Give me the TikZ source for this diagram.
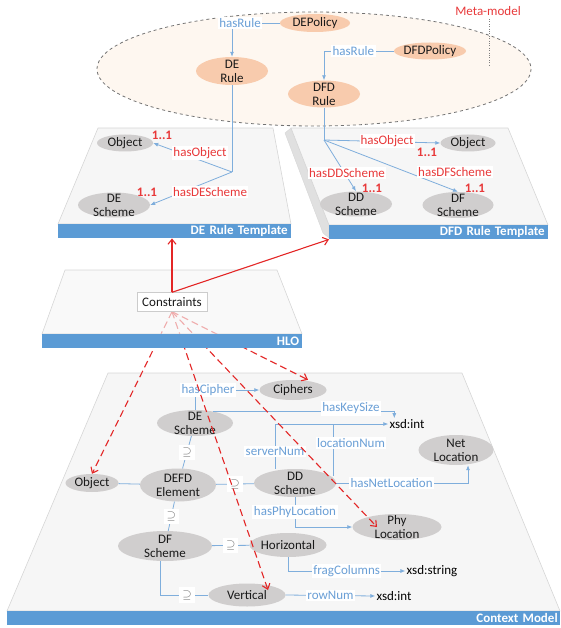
\documentclass[tikz,border=0pt]{standalone}
\usepackage{fontspec}
\setmainfont{Carlito}
\usepackage{amssymb}
\usetikzlibrary{shapes.geometric,arrows.meta}
\definecolor{peach}{HTML}{F8CBAD}
\definecolor{metabg}{HTML}{FEF7F0}
\definecolor{nodegray}{HTML}{D0CECE}
\definecolor{barblue}{HTML}{5B9BD5}
\definecolor{lineblue}{HTML}{7FAEDC}
\definecolor{textblue}{HTML}{6A9FD6}
\definecolor{relred}{HTML}{E8393A}
\definecolor{arrowred}{HTML}{E32626}
\definecolor{planegray}{HTML}{F6F6F6}
\definecolor{planeedge}{HTML}{D6D6D6}
\pgfdeclarelayer{front}
\pgfsetlayers{main,front}

\begin{document}
\begin{tikzpicture}[x=1pt,y=-1pt,
    font=\fontsize{13}{14}\selectfont,
    concept/.style={ellipse, fill=nodegray, inner sep=-5pt, align=center, text=black!90},
    metaconcept/.style={concept, fill=peach},
    bar/.style={rectangle, fill=barblue, text=white, font=\fontsize{13}{14}\selectfont\bfseries, inner sep=0pt, minimum height=14, align=right, anchor=north west},
    plane/.style={fill=planegray, draw=planeedge, line width=0.6pt},
    rel/.style={draw=lineblue, line width=0.8pt},
    relarrow/.style={rel, -{Latex[length=5pt,width=4pt]}},
    rellabel/.style={fill=white, text=textblue, inner sep=1.5pt},
    tmplabel/.style={fill=white, text=relred, inner sep=1pt},
    card/.style={text=relred, font=\fontsize{13}{14}\selectfont\bfseries, inner sep=0pt},
    sublabel/.style={fill=white, text=black!60, inner sep=3pt},
    constraint/.style={arrowred, line width=1.1pt, -{Straight Barb[length=5pt,width=8pt]}},
    constraintdash/.style={constraint, dash pattern=on 7pt off 4pt}]
    \useasboundingbox (0,0) rectangle (560,628);

    % Meta-model
    \draw[dashed, draw=black!55, fill=metabg, line width=0.8pt] (314,69) ellipse [x radius=217, y radius=57];
    \node[text=relred] (mmlabel) at (488,11) {Meta-model};
    \draw[dotted, black!50] ([xshift=1]mmlabel.south) -- ++(0,47);
    \node[metaconcept, minimum width=70, minimum height=18] (depolicy) at (315,23) {DEPolicy};
    \node[metaconcept, minimum width=72, minimum height=28] (derule) at (232,71) {DE\\Rule};
    \node[metaconcept, minimum width=72, minimum height=17] (dfdpolicy) at (430,51) {DFDPolicy};
    \node[metaconcept, minimum width=72, minimum height=27] (dfdrule) at (324,94) {DFD\\Rule};
    \draw[relarrow] (depolicy.west) -| node[rellabel, pos=0.5, xshift=8] (hasrule1) {hasRule} (derule.north);
    \draw[relarrow] (dfdpolicy.west) -| node[rellabel, pos=0.29] (hasrule2) {hasRule} (dfdrule.north);

    % DE Rule Template
    \filldraw[plane] (98,128) -- (273,128) -- (291,224) -- (58,224) -- cycle;
    \node[bar, minimum width=233, text width=226] (debar) at (58,224) {DE Rule Template};
    \node[concept, minimum width=56, minimum height=17] (deobj) at (125,143) {Object};
    \node[concept, minimum width=72, minimum height=25] (desch1) at (114,205) {DE\\Scheme};
    \coordinate (dejoin) at (232,172);
    \draw[rel] (derule.south) -- (dejoin);
    \draw[relarrow] (dejoin) -- (deobj.east);
    \draw[relarrow] (dejoin) -- (desch1.east);
    \node[tmplabel] (dehasobj) at (200,153) {hasObject};
    \node[tmplabel] (dehassch) at (210,192) {hasDEScheme};
    \node[card] (decard1) at (162,135) {1..1};
    \node[card] (decard2) at (147,192) {1..1};

    % DFD Rule Template
    \filldraw[fill=black!12, draw=planeedge] (285,133) -- (291,128) -- (329,225) -- (329,238) -- (323,233) -- cycle;
    \filldraw[plane] (291,128) -- (508,128) -- (548,225) -- (329,225) -- cycle;
    \node[bar, minimum width=219, text width=212] (dfdbar) at (329,225) {DFD Rule Template};
    \node[concept, minimum width=55, minimum height=17] (dfdobj) at (468,143) {Object};
    \node[concept, minimum width=72, minimum height=25] (ddsch1) at (356,204) {DD\\Scheme};
    \node[concept, minimum width=71, minimum height=26] (dfsch1) at (458,205) {DF\\Scheme};
    \coordinate (dfdjoin) at (324,140);
    \draw[rel] (dfdrule.south) -- (dfdjoin);
    \draw[relarrow] (dfdjoin) -- (dfdobj.west);
    \draw[relarrow] (dfdjoin) -- (ddsch1.north);
    \draw[relarrow] (dfdjoin) -- (dfsch1.north);
    \node[tmplabel] (dfdhasobj) at (387,141) {hasObject};
    \node[tmplabel] (dfdhasdd) at (347,173) {hasDDScheme};
    \node[tmplabel] (dfdhasdf) at (455,172) {hasDFScheme};
    \node[card] (dfdcard1) at (427,152) {1..1};
    \node[card] (dfdcard2) at (372,188) {1..1};
    \node[card] (dfdcard3) at (475,188) {1..1};

    % Context Model
    \filldraw[plane] (108,373) -- (462,373) -- (560,611) -- (7,611) -- cycle;
    \node[bar, minimum width=553, text width=548] (ctxbar) at (7,611) {Context Model};
    \node[concept, minimum width=67, minimum height=20] (ciphers) at (293,390) {Ciphers};
    \node[concept, minimum width=76, minimum height=26] (desch) at (195,423) {DE\\Scheme};
    \node[concept, minimum width=76, minimum height=33] (defd) at (178,485) {DEFD\\Element};
    \node[concept, minimum width=53, minimum height=18] (obj) at (92,483) {Object};
    \node[concept, minimum width=82, minimum height=28] (ddsch) at (295,483) {DD\\Scheme};
    \node[concept, minimum width=75, minimum height=30] (netloc) at (456,450) {Net\\Location};
    \node[concept, minimum width=89, minimum height=26] (phyloc) at (397,527) {Phy\\Location};
    \node[concept, minimum width=94, minimum height=30] (dfsch) at (165,546) {DF\\Scheme};
    \node[concept, minimum width=77, minimum height=24] (horiz) at (288,545) {Horizontal};
    \node[concept, minimum width=77, minimum height=23] (vert) at (247,595) {Vertical};
    \node[inner sep=1pt] (xsdint) at (407,424) {xsd:int};
    \node[inner sep=1pt] (xsdstr) at (432,571) {xsd:string};
    \node[inner sep=1pt] (xsdint2) at (394,596) {xsd:int};
    % properties
    \draw[relarrow] (desch.north) |- node[rellabel, pos=0.5, xshift=13] (hascipher) {hasCipher} (ciphers.west);
    \draw[relarrow] (desch.32) -| node[rellabel, pos=0.38, yshift=3] (haskey) {hasKeySize} ([xshift=6]xsdint.north west);
    \draw[relarrow] ([xshift=-20]ddsch.north) |- node[rellabel, pos=0.19] (servernum) {serverNum} (xsdint.west);
    \draw[rel] ([xshift=38,yshift=-7]ddsch.north) -- node[rellabel, pos=0.63, xshift=18] (locnum) {locationNum} ([xshift=38]ddsch.north |- xsdint.west);
    \draw[relarrow] (ddsch.east) -| node[rellabel, pos=0.21] (hasnet) {hasNetLocation} ([xshift=12]netloc.south);
    \draw[relarrow] (ddsch.south) |- node[rellabel, pos=0.25] (hasphy) {hasPhyLocation} (phyloc.west);
    \draw[relarrow] (horiz.south) |- node[rellabel, pos=0.75] (fragcol) {fragColumns} (xsdstr.west);
    \draw[relarrow] (vert.east) -- node[rellabel] (rownum) {rowNum} (xsdint2.west);
    % subsumption
    \draw[rel] (obj) -- (defd);
    \draw[rel] (desch) -- node[sublabel] (sub1) {$\supseteq$} (defd);
    \draw[rel] (defd) -- node[sublabel] (sub2) {$\supseteq$} (ddsch);
    \draw[rel] (defd) -- node[sublabel] (sub3) {$\supseteq$} (dfsch);
    \draw[rel] (dfsch) -- node[sublabel] (sub4) {$\supseteq$} (horiz);
    \draw[rel] ([xshift=-5]dfsch.south) |- node[sublabel, pos=0.78] (sub5) {$\supseteq$} (vert.west);

    % Constraints
    \begin{pgfonlayer}{front}
        \node[draw=black!20, fill=white, inner xsep=5pt, inner ysep=3pt, minimum height=19, text=black!90] (cons) at (172,302) {Constraints};
        \draw[constraint] (cons.north) -- (cons.north |- debar.south);
        \draw[constraint] (cons.north) -- (dfdbar.south west);
    \end{pgfonlayer}
    \draw[constraintdash] (cons.south) -- (obj.north);
    \draw[constraintdash] (cons.south) -- ([xshift=15]ciphers.north);
    \draw[constraintdash] (cons.south) -- ([xshift=21,yshift=5]vert.center);
    \draw[constraintdash] (cons.south) -- ([xshift=-20]phyloc.center);

    % HLO
    \filldraw[plane, fill opacity=0.65] (65,270) -- (277,270) -- (302,334) -- (42,334) -- cycle;
    \node[bar, minimum width=260, text width=254] (hlobar) at (42,334) {HLO};
\end{tikzpicture}
\end{document}
